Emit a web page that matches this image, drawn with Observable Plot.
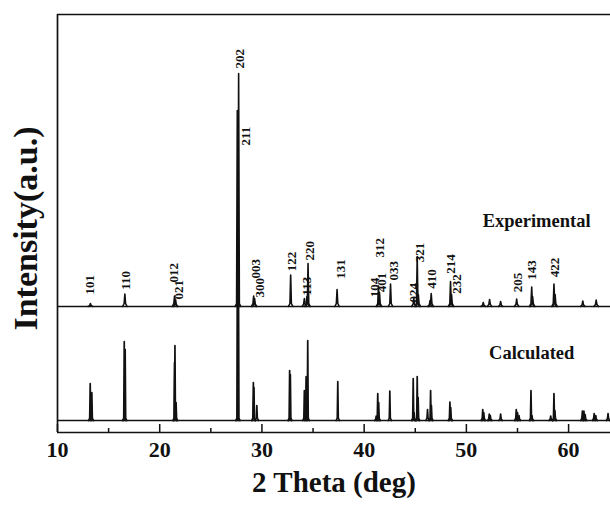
<!DOCTYPE html>
<html>
<head>
<meta charset="utf-8">
<script src="https://cdn.jsdelivr.net/npm/d3@7"></script>
<script src="https://cdn.jsdelivr.net/npm/@observablehq/plot@0.6"></script>
<style>
  html, body { margin: 0; padding: 0; background: #fff; }
</style>
</head>
<body>
<div id="chart"></div>
<script>
// ---- Data ----
// Calculated pattern: peak positions (2θ, deg) and intensities (a.u.)
const calcPos = [13.20, 13.36, 16.53, 16.62, 21.45, 21.49, 21.60, 27.60, 27.70, 29.16, 29.22, 29.50,
  32.71, 32.78, 34.15, 34.32, 34.48, 37.42, 41.18, 41.33, 41.42, 42.51, 44.80, 44.88, 45.19, 45.28,
  46.20, 46.50, 46.58, 48.39, 48.47, 51.60, 51.70, 52.24, 52.34, 53.35, 54.88, 55.00, 55.15,
  56.32, 56.42, 58.25, 58.57, 58.66, 61.35, 61.50, 61.62, 62.50, 62.66, 63.86];
const calcInt = [37, 28, 79, 71, 58, 75, 18, 178, 168, 38, 33, 15,
  50, 46, 30, 44, 80, 39, 4.5, 27, 18, 29.5, 42, 8, 44, 23,
  11, 30, 15, 18.5, 13, 11, 8, 6.5, 5, 6.5, 11, 8, 5,
  30, 5, 4.5, 27, 10, 9.5, 9.5, 6, 7, 5, 7];

// Experimental pattern: peak positions (2θ, deg) and intensities (a.u.)
const expPos = [13.22, 16.59, 21.45, 21.55, 27.59, 27.72, 29.19, 29.28, 32.81, 34.15, 34.40, 34.51,
  37.35, 41.40, 41.50, 42.58, 44.86, 45.19, 45.30, 46.45, 46.56, 48.45, 48.55, 51.65, 52.27, 53.35,
  54.92, 56.39, 56.48, 58.57, 58.68, 61.39, 62.70];
const expInt = [3, 12.5, 10.5, 7, 196, 233, 10.5, 8, 31.5, 8, 10, 43,
  17, 20.5, 14, 22.5, 8, 50, 12, 6, 13, 25, 12, 4, 7, 5,
  7.5, 19.5, 10, 22.5, 12, 5.5, 6.5];
const expOffset = 114; // vertical offset of the experimental trace (a.u.)

// Miller index labels: text, 2θ position, label base height (a.u.)
const hklText = ["101","110","012","021","202","211","003","300","122","113","220","131",
  "104","312","401","033","024","321","410","214","232","205","143","422"];
const hklX = [13.2, 16.72, 21.42, 21.86, 27.88, 28.47, 29.45, 29.8, 32.88, 34.35, 34.67, 37.68,
  41.0, 41.53, 41.76, 42.9, 44.86, 45.42, 46.66, 48.45, 49.1, 54.99, 56.45, 58.67];
const hklY = [126, 130.7, 138, 121, 352, 275, 142, 123, 149.3, 125, 160, 141.7,
  123.3, 163, 128.3, 140, 118, 158.3, 131.7, 146.7, 126.7, 128.3, 140.7, 143.3];

// Series names and their label anchors
const seriesNames = ["Experimental", "Calculated"];
const seriesLabelX = [56.87, 56.39];
const seriesLabelY = [194, 62];

// Axis ticks
const majorTicks = [10, 20, 30, 40, 50, 60];
const minorTicks = [15, 25, 35, 45, 55];
const xDomain = [10, 64.1];
const yDomain = [-12, 406];

// ---- Build peak profiles (narrow stick peaks with a small foot) ----
function peakRows(pos, ints, base, halfW, footW, footH, series) {
  const rows = [];
  pos.forEach((p, i) => {
    const h = ints[i];
    const id = series + i;
    rows.push({x: p - halfW, y: base, id});
    rows.push({x: p - footW, y: base + Math.min(footH, h * 0.3), id});
    rows.push({x: p, y: base + h, id});
    rows.push({x: p + footW, y: base + Math.min(footH, h * 0.3), id});
    rows.push({x: p + halfW, y: base, id});
  });
  return rows;
}
const calcRows = peakRows(calcPos, calcInt, 0, 0.16, 0.05, 2.5, "c");
const expRows = peakRows(expPos, expInt, expOffset, 0.22, 0.07, 3, "e");
const hkl = hklText.map((t, i) => ({t, x: hklX[i], y: hklY[i]}));
const seriesLabels = seriesNames.map((t, i) => ({t, x: seriesLabelX[i], y: seriesLabelY[i]}));

const ink = "#111";
const serif = "'Liberation Serif', 'Times New Roman', serif";

const chart = Plot.plot({
  width: 610,
  height: 506,
  marginLeft: 57,
  marginRight: 0,
  marginTop: 14,
  marginBottom: 74,
  style: {fontFamily: serif, background: "white", color: ink},
  x: {domain: xDomain, axis: null},
  y: {domain: yDomain, axis: null},
  marks: [
    // frame (top, left, bottom)
    Plot.ruleY([yDomain[1]], {x1: xDomain[0], x2: xDomain[1], stroke: ink, strokeWidth: 1.7}),
    Plot.ruleX([xDomain[0]], {y1: yDomain[0], y2: yDomain[1], stroke: ink, strokeWidth: 1.7}),
    Plot.ruleY([yDomain[0]], {x1: xDomain[0], x2: xDomain[1], stroke: ink, strokeWidth: 1.7}),
    // inward ticks
    Plot.ruleX(majorTicks, {x: d => d, y1: yDomain[0], y2: yDomain[0] + 8, stroke: ink, strokeWidth: 1.5}),
    Plot.ruleX(minorTicks, {x: d => d, y1: yDomain[0], y2: yDomain[0] + 4, stroke: ink, strokeWidth: 1.5}),
    Plot.axisX({ticks: majorTicks, tickSize: 0, tickPadding: 9, fontSize: 22, fontWeight: "bold",
      tickFormat: d => String(d), label: null}),
    // baselines
    Plot.ruleY([0], {x1: xDomain[0], x2: xDomain[1], stroke: ink, strokeWidth: 1.4}),
    Plot.ruleY([expOffset], {x1: xDomain[0], x2: xDomain[1], stroke: ink, strokeWidth: 1.7}),
    // patterns
    Plot.line(expRows, {x: "x", y: "y", z: "id", stroke: ink, strokeWidth: 1.6}),
    Plot.line(calcRows, {x: "x", y: "y", z: "id", stroke: ink, strokeWidth: 1.7}),
    // hkl labels
    Plot.text(hkl, {x: "x", y: "y", text: "t", rotate: -90, textAnchor: "start", lineAnchor: "middle",
      fontSize: 13, fontWeight: "bold", fill: ink}),
    // series labels
    Plot.text(seriesLabels, {x: "x", y: "y", text: "t", lineAnchor: "bottom", fontSize: 18.5,
      fontWeight: "bold", fill: ink}),
    // axis titles
    Plot.text(["2 Theta (deg)"], {frameAnchor: "bottom", dy: 50, textAnchor: "middle", lineAnchor: "middle",
      fontSize: 29, fontWeight: "bold", fill: ink}),
    Plot.text(["Intensity(a.u.)"], {frameAnchor: "left", dx: -31, dy: 5, rotate: -90, textAnchor: "middle",
      lineAnchor: "middle", fontSize: 34, fontWeight: "bold", fill: ink})
  ]
});
document.getElementById("chart").appendChild(chart);
</script>
</body>
</html>
